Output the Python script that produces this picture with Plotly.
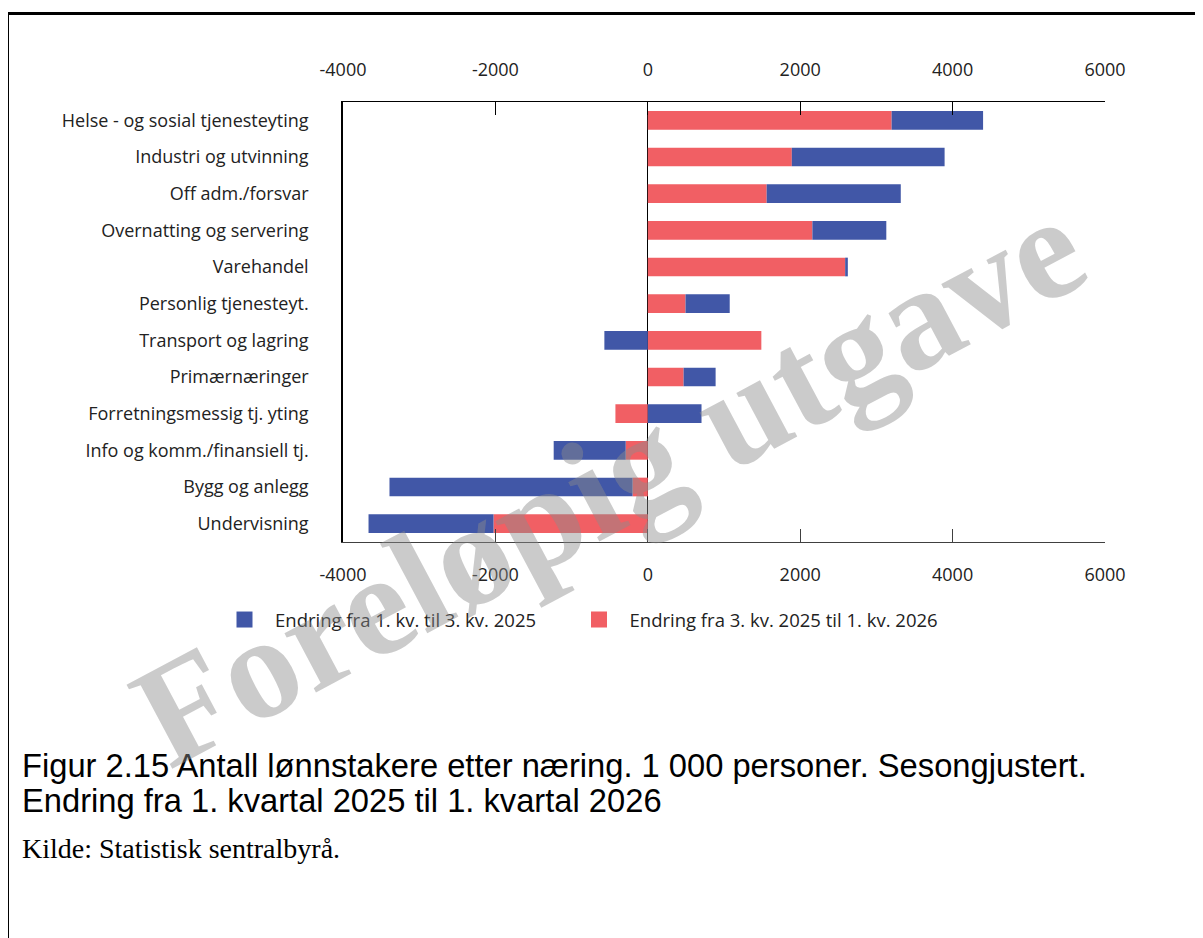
"""Antall lønnstakere etter næring - stacked horizontal bars"""

import plotly.graph_objects as go

# data (1 000 personer)
naeringer = [
    "Helse - og sosial tjenesteyting",
    "Industri og utvinning",
    "Off adm./forsvar",
    "Overnatting og servering",
    "Varehandel",
    "Personlig tjenesteyt.",
    "Transport og lagring",
    "Primærnæringer",
    "Forretningsmessig tj. yting",
    "Info og komm./finansiell tj.",
    "Bygg og anlegg",
    "Undervisning",
]
endring_k1_k3_2025 = [1200, 2005, 1760, 970, 35, 580, -570, 420, 705, -945, -3190, -1640]
endring_k3_2025_k1_2026 = [3200, 1890, 1560, 2160, 2590, 495, 1490, 470, -425, -290, -200, -2025]
x_ticks = [-4000, -2000, 0, 2000, 4000, 6000]

BLUE = "#4157a7"
RED = "#f15f64"
TICK_FONT = dict(family="Open Sans", size=18, color="#222222")
LEGEND_FONT = dict(family="Open Sans", size=18.5, color="#222222")

# the page body has an 8px margin, so the figure starts at (8, 8)
OFF = 8
W, H = 1203 - OFF, 938 - OFF
# plot area in page pixels
L, R, T, B = 343, 1105, 102, 542


def px_x(p):
    return (p - L) / (R - L)


def px_y(p):
    return (B - p) / (B - T)


fig = go.Figure()

# red first so it sits next to zero, blue stacked outside it
fig.add_trace(go.Bar(
    y=naeringer, x=endring_k3_2025_k1_2026, orientation="h",
    marker=dict(color=RED, line=dict(width=0)),
    name="Endring fra 3. kv. 2025 til 1. kv. 2026", showlegend=False,
))
fig.add_trace(go.Bar(
    y=naeringer, x=endring_k1_k3_2025, orientation="h",
    marker=dict(color=BLUE, line=dict(width=0)),
    name="Endring fra 1. kv. til 3. kv. 2025", showlegend=False,
))

# legend entries (square markers) on the top axis, one legend each
for name, color, leg in [("Endring fra 1. kv. til 3. kv. 2025", BLUE, "legend"),
                         ("Endring fra 3. kv. 2025 til 1. kv. 2026", RED, "legend2")]:
    fig.add_trace(go.Scatter(
        x=[None], y=[None], mode="markers", xaxis="x2",
        marker=dict(symbol="square", size=18, color=color),
        name=name, hoverinfo="skip", legend=leg,
    ))

axis_common = dict(
    range=[-4000, 6000], tickvals=x_ticks, ticktext=[str(v) for v in x_ticks],
    ticks="inside", ticklen=13, tickwidth=1, showline=True, linewidth=1,
    showgrid=False, tickfont=TICK_FONT, fixedrange=True,
)
legend_common = dict(
    orientation="h", y=px_y(620), xanchor="left", yanchor="middle",
    font=LEGEND_FONT, itemwidth=51, bgcolor="rgba(0,0,0,0)",
)

fig.update_layout(
    width=W, height=H,
    margin=dict(l=L - OFF, r=1203 - R, t=T - OFF, b=938 - B, pad=0),
    paper_bgcolor="white", plot_bgcolor="white",
    barmode="relative", bargap=0.49,
    font=dict(family="Open Sans", size=18, color="#222222"),
    xaxis=dict(**axis_common, side="bottom", linecolor="#404040", tickcolor="#404040",
               zeroline=True, zerolinecolor="black", zerolinewidth=1,
               ticklabelstandoff=16),
    xaxis2=dict(**axis_common, side="top", overlaying="x", matches="x", anchor="y",
                linecolor="black", tickcolor="black", zeroline=False,
                ticklabelstandoff=18),
    yaxis=dict(categoryorder="array", categoryarray=naeringer, autorange="reversed",
               showline=True, linecolor="black", linewidth=1.5, ticks="",
               showgrid=False, tickfont=TICK_FONT, ticklabelstandoff=29,
               fixedrange=True),
    legend=dict(**legend_common, x=px_x(214)),
    legend2=dict(**legend_common, x=px_x(568.5)),
    showlegend=True,
)

# page frame (top and left edge)
fig.add_shape(type="line", xref="paper", yref="paper",
              x0=px_x(7.5), x1=px_x(1203), y0=px_y(13.5), y1=px_y(13.5),
              line=dict(color="black", width=3))
fig.add_shape(type="line", xref="paper", yref="paper",
              x0=px_x(7.5), x1=px_x(7.5), y0=px_y(13.5), y1=px_y(940),
              line=dict(color="black", width=3))

# caption and source
caption_font = dict(family="Liberation Sans, Arial", size=32.7, color="black")
fig.add_annotation(
    xref="paper", yref="paper", x=px_x(20), y=px_y(765), xanchor="left", yanchor="middle",
    text="Figur 2.15 Antall lønnstakere etter næring. 1 000 personer. Sesongjustert.",
    showarrow=False, font=caption_font,
)
fig.add_annotation(
    xref="paper", yref="paper", x=px_x(20), y=px_y(800), xanchor="left", yanchor="middle",
    text="Endring fra 1. kvartal 2025 til 1. kvartal 2026",
    showarrow=False, font=caption_font,
)
fig.add_annotation(
    xref="paper", yref="paper", x=px_x(20), y=px_y(848), xanchor="left", yanchor="middle",
    text="Kilde: Statistisk sentralbyrå.", showarrow=False,
    font=dict(family="Liberation Serif, Times New Roman", size=28, color="black"),
)

# watermark
fig.add_annotation(
    xref="paper", yref="paper", x=px_x(609), y=px_y(481), xanchor="center", yanchor="middle",
    text="<b>Foreløpig utgave</b>", textangle=-28, showarrow=False,
    font=dict(family="Liberation Serif, Times New Roman", size=146,
              color="rgba(140,140,140,0.45)"),
)

fig.write_html("out.html")
